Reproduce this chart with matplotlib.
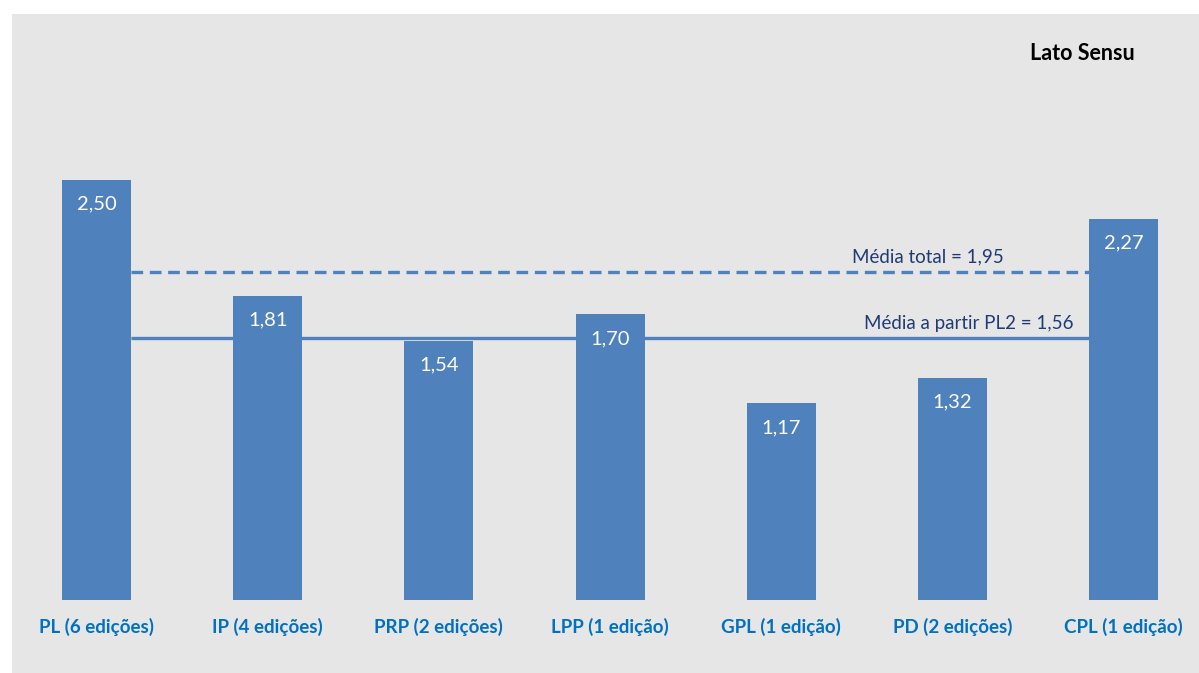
import matplotlib
matplotlib.use("Agg")
import matplotlib.pyplot as plt

plt.rcParams['font.family'] = ['Lato', 'DejaVu Sans']

categories = ["PL (6 edições)", "IP (4 edições)", "PRP (2 edições)", "LPP (1 edição)",
              "GPL (1 edição)", "PD (2 edições)", "CPL (1 edição)"]
values = [2.50, 1.81, 1.54, 1.70, 1.17, 1.32, 2.27]
mean_total = 1.95
mean_from_pl2 = 1.56
title = "Lato Sensu"

bar_color = "#4F81BD"
label_color = "#0070C0"
note_color = "#1F3B73"
panel_color = "#E6E6E6"

W, H = 1199, 673
fig = plt.figure(figsize=(W / 100, H / 100), dpi=100)
fig.patch.set_facecolor("white")
ax = fig.add_axes([12 / W, 0, 1 - 12 / W, (H - 14) / H])
ax.set_facecolor(panel_color)
for s in ax.spines.values():
    s.set_visible(False)
ax.set_xticks([])
ax.set_yticks([])

ppu = 168.0  # pixels per unit
x0, step = 96.5, 171.2
ax.set_xlim((12 - x0) / step, (W - x0) / step)
ax.set_ylim(-(H - 600) / ppu, (600 - 14) / ppu)

xs = list(range(len(values)))
bw = 69 / step
ax.bar(xs, values, width=bw, color=bar_color, zorder=3)

# average lines between the first and last bars
ax.hlines(mean_total, xs[0] + bw / 2, xs[-1] - bw / 2, colors=bar_color,
          linewidth=2.4, linestyles=(0, (3.5, 2.0)), zorder=2)
ax.hlines(mean_from_pl2, xs[0] + bw / 2, xs[-1] - bw / 2, colors=bar_color,
          linewidth=2.4, zorder=2)

ax.text((928 - x0) / step, mean_total + 16 / ppu,
        f"Média total = {mean_total:.2f}".replace(".", ","),
        ha="center", va="center", fontsize=13.5, color=note_color)
ax.text((1073 - x0) / step, mean_from_pl2 + 14 / ppu,
        f"Média a partir PL2 = {mean_from_pl2:.2f}".replace(".", ","),
        ha="right", va="center", fontsize=13.5, color=note_color)

for x, v in zip(xs, values):
    ax.text(x, v - 24 / ppu, f"{v:.2f}".replace(".", ","), ha="center", va="center",
            fontsize=14.5, color="white", zorder=4)
    ax.text(x, -27 / ppu, categories[x], ha="center", va="center",
            fontsize=13.5, fontweight="bold", color=label_color)

ax.text((1082 - x0) / step, (600 - 54) / ppu, title, ha="center", va="center",
        fontsize=15.5, fontweight="bold", color="black")

fig.savefig("out.png", dpi=100, facecolor="white")
